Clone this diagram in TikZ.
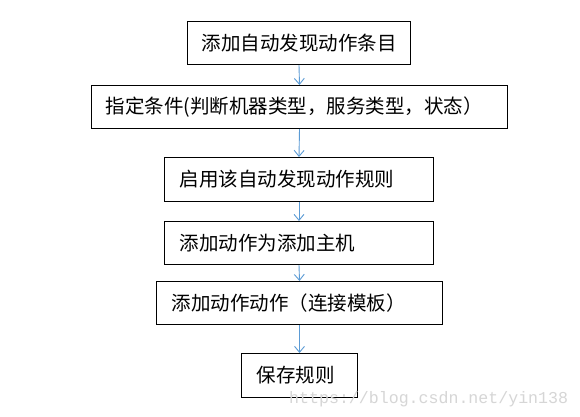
\documentclass[tikz,border=0pt]{standalone}
\usepackage{fontspec}
\setmainfont{Noto Sans CJK SC}
\newfontfamily\wmfont{Liberation Mono}
\usetikzlibrary{arrows.meta}
\definecolor{arrowblue}{HTML}{5B9BD5}
\definecolor{wmgray}{HTML}{D6D6D6}
\begin{document}
\begin{tikzpicture}[x=1pt,y=1pt,
  stepbox/.style={draw=black, line width=1pt, anchor=north west, inner ysep=0pt,
    minimum height=43pt, align=left, font=\fontsize{19.5}{22}\selectfont},
  flow/.style={draw=arrowblue, line width=0.9pt, -{Straight Barb[length=6pt,width=10pt,line width=0.9pt]}}]
\useasboundingbox (0,0) rectangle (580,416);
\fill[white] (0,0) rectangle (580,416);
\node[stepbox, inner xsep=14pt, text width=195pt] (b1) at (187,395) {添加自动发现动作条目};
\node[stepbox, inner xsep=14pt, text width=388pt] (b2) at (91,331) {指定条件(判断机器类型，服务类型，状态）};
\node[stepbox, inner xsep=15pt, text width=239pt, minimum height=44pt] (b3) at (164,259) {启用该自动发现动作规则};
\node[stepbox, inner xsep=15pt, text width=239pt] (b4) at (164,195) {添加动作为添加主机};
\node[stepbox, inner xsep=15pt, text width=256pt] (b5) at (156,135) {添加动作动作（连接模板）};
\node[stepbox, inner xsep=15pt, text width=86pt, minimum height=44pt] (b6) at (241,63) {保存规则};
\draw[flow] (b1.south) -- (b2.north);
\draw[flow] (b2.south) -- (b3.north);
\draw[flow] (b3.south) -- (b4.north);
\draw[flow] (b4.south) -- (b5.north);
\draw[flow] (b5.south) -- (b6.north);
\node[anchor=base west, inner sep=0pt, text=wmgray, font=\wmfont\fontsize{16.6}{18}\selectfont] (wm) at (289,13) {https://blog.csdn.net/yin138};
\end{tikzpicture}
\end{document}
